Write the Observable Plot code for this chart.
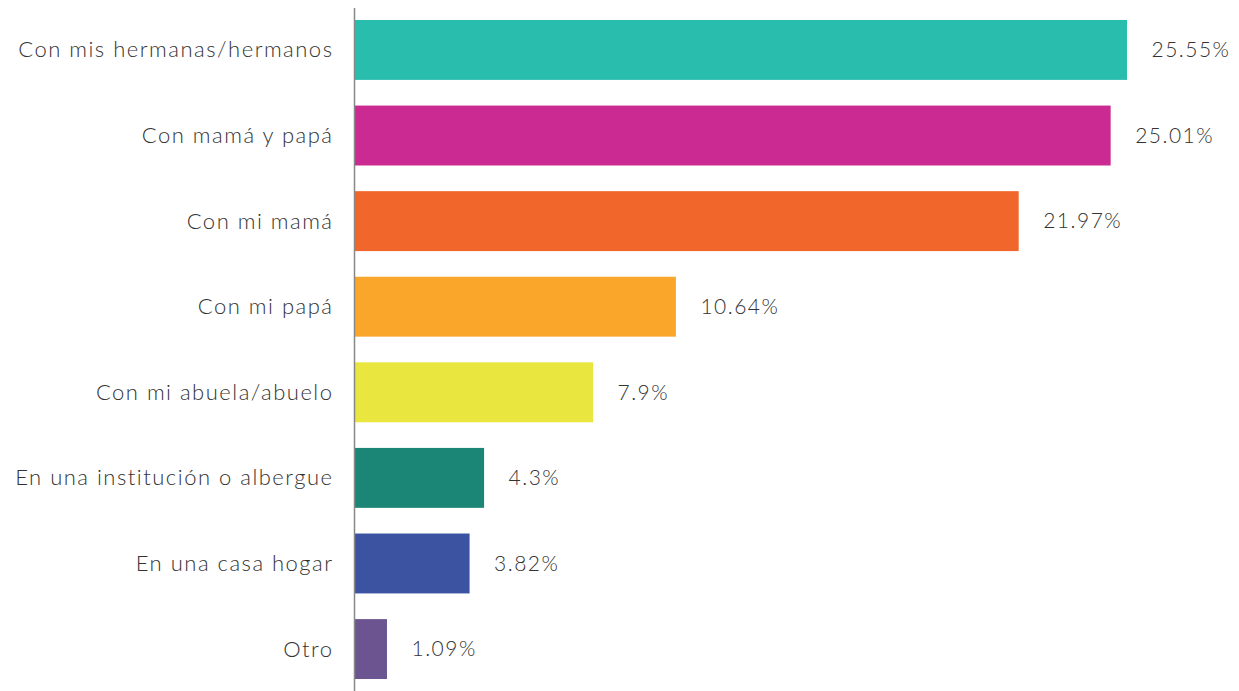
<!DOCTYPE html>
<html><head><meta charset="utf-8">
<script src="https://cdn.jsdelivr.net/npm/d3@7"></script>
<script src="https://cdn.jsdelivr.net/npm/@observablehq/plot@0.6"></script>
<style>
html,body{margin:0;padding:0;background:#fff;}
svg{display:block;}
</style>
</head><body>
<div id="chart"></div>
<script>
const categories = ["Con mis hermanas/hermanos","Con mamá y papá","Con mi mamá","Con mi papá","Con mi abuela/abuelo","En una institución o albergue","En una casa hogar","Otro"];
const values = [25.55, 25.01, 21.97, 10.64, 7.9, 4.3, 3.82, 1.09];
const labels = ["25.55%","25.01%","21.97%","10.64%","7.9%","4.3%","3.82%","1.09%"];
const colors = ["#29bdae","#cb2a92","#f1662b","#f9a62b","#e8e63f","#1b8676","#3c53a2","#6b5490"];

const data = categories.map((c,i)=>({cat:c, value:values[i], label:labels[i], color:colors[i]}));

const chart = Plot.plot({
  width: 1239,
  height: 691,
  marginLeft: 354,
  marginRight: 112,
  marginTop: 8,
  marginBottom: 0,
  style: {fontFamily: "Lato", fontWeight: 300, color: "#333", background: "#fff", letterSpacing: "1.5px"},
  x: {domain: [0, 25.55], axis: null},
  y: {domain: categories, paddingInner: 0.3, paddingOuter: 0.14, round: false, label: null},
  marks: [
    Plot.barX(data, {y: "cat", x: "value", fill: "color"}),
    Plot.axisY({tickSize: 0, tickPadding: 21, fontSize: 22, label: null, fill: "#333"}),
    Plot.text(data, {y: "cat", x: "value", text: "label", textAnchor: "start", dx: 24, fontSize: 21, fill: "#333", letterSpacing: "0.8px"}),
    Plot.ruleX([0], {stroke: "#888", strokeWidth: 1.5})
  ]
});
document.getElementById("chart").append(chart);
</script>
</body></html>
